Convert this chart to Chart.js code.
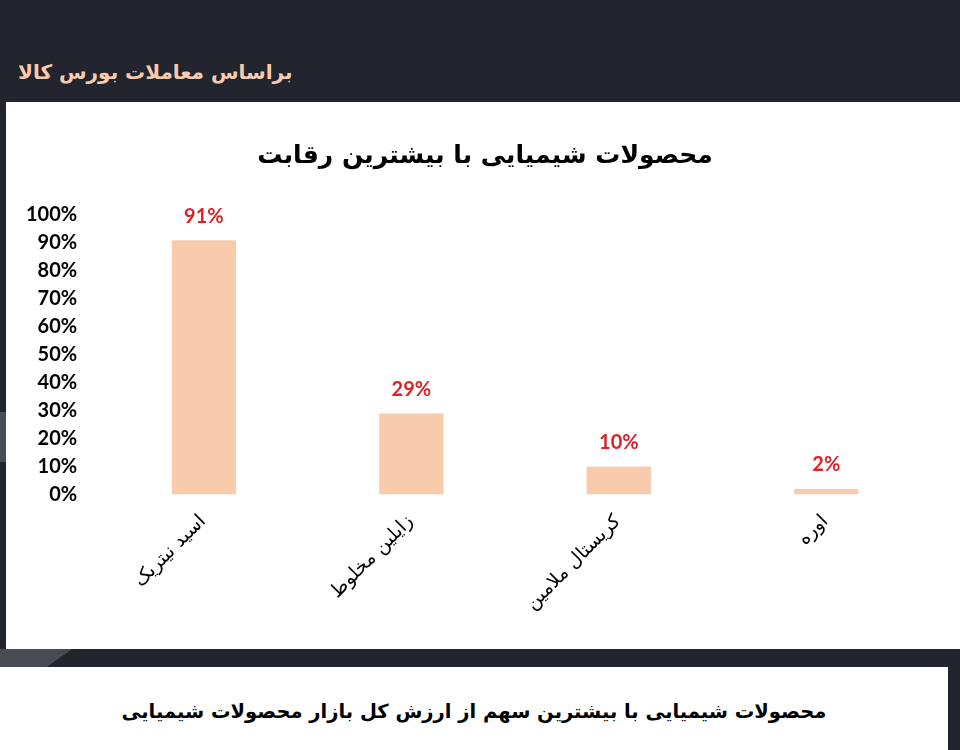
<!DOCTYPE html>
<html lang="fa">
<head>
  <meta charset="UTF-8">
  <title>محصولات شیمیایی با بیشترین رقابت</title>
  <script src="https://cdn.jsdelivr.net/npm/chart.js"></script>
  <style>
    body {
      margin: 0;
      width: 960px;
      height: 750px;
      overflow: hidden;
      background-color: #22252d;
      position: relative;
      font-family: "DejaVu Sans", sans-serif;
    }
    .header {
      position: absolute;
      left: 18px;
      top: 60px;
      color: #f8cbad;
      font-size: 20px;
      font-weight: bold;
      direction: rtl;
    }
    .panel {
      position: absolute;
      left: 6px;
      top: 102px;
      width: 954px;
      height: 547px;
      background: #fff;
    }
    .title {
      position: absolute;
      left: 0;
      top: 38px;
      width: 958px;
      text-align: center;
      font-size: 25px;
      font-weight: bold;
      direction: rtl;
      color: #000;
    }
    .strip {
      position: absolute;
      left: 0;
      top: 412px;
      width: 6px;
      height: 50px;
      background: #4a4d55;
    }
    .slant {
      position: absolute;
      left: 0;
      top: 649px;
      width: 72px;
      height: 18px;
      background: #484b53;
      clip-path: polygon(0 0, 100% 0, 65% 100%, 0 100%);
    }
    .footer {
      position: absolute;
      left: 0;
      top: 667px;
      width: 948px;
      height: 83px;
      background: #fff;
      text-align: center;
      box-sizing: border-box;
      padding-top: 33px;
      font-size: 19.5px;
      font-weight: bold;
      direction: rtl;
      color: #000;
    }
  </style>
</head>
<body>
  <div class="header">براساس معاملات بورس کالا</div>
  <div class="strip"></div>
  <div class="slant"></div>
  <div class="panel">
    <canvas id="chart" width="954" height="547"></canvas>
    <div class="title">محصولات شیمیایی با بیشترین رقابت</div>
  </div>
  <div class="footer">محصولات شیمیایی با بیشترین سهم از ارزش کل بازار محصولات شیمیایی</div>

  <script>
    const categories = ['اسید نیتریک', 'زایلین مخلوط', 'کریستال ملامین', 'اوره'];
    const shares = [91, 29, 10, 2];
    const yTicks = [0, 10, 20, 30, 40, 50, 60, 70, 80, 90, 100];

    // labels above each bar
    const valueLabels = {
      id: 'valueLabels',
      afterDatasetsDraw(chart) {
        const c = chart.ctx;
        const meta = chart.getDatasetMeta(0);
        c.save();
        c.fillStyle = '#e31e24';
        c.font = 'bold 20px Lato, sans-serif';
        c.textAlign = 'center';
        c.textBaseline = 'middle';
        meta.data.forEach((bar, i) => {
          c.fillText(shares[i] + '%', bar.x, bar.y - 24);
        });
        c.restore();
      }
    };

    new Chart(document.getElementById('chart'), {
      type: 'bar',
      data: {
        labels: categories,
        datasets: [{
          data: shares,
          backgroundColor: '#f8cbad',
          barPercentage: 0.62,
          categoryPercentage: 0.5
        }]
      },
      options: {
        responsive: false,
        animation: false,
        layout: { padding: { left: 5, right: 30, top: 113, bottom: 26 } },
        plugins: {
          legend: { display: false },
          tooltip: { enabled: false },
          title: { display: false }
        },
        scales: {
          x: {
            grid: { display: false },
            border: { display: false },
            ticks: {
              color: '#000',
              font: { family: '"DejaVu Sans", sans-serif', size: 19 },
              minRotation: 45,
              maxRotation: 45,
              labelOffset: -1,
              padding: 8
            }
          },
          y: {
            min: 0,
            max: 100,
            grid: { display: false },
            border: { display: false },
            afterBuildTicks(axis) {
              axis.ticks = yTicks.map(v => ({ value: v }));
            },
            ticks: {
              color: '#000',
              font: { family: 'Lato, sans-serif', size: 20, weight: 'bold' },
              padding: 15,
              callback: v => v + '%'
            }
          }
        }
      },
      plugins: [valueLabels]
    });
  </script>
</body>
</html>
